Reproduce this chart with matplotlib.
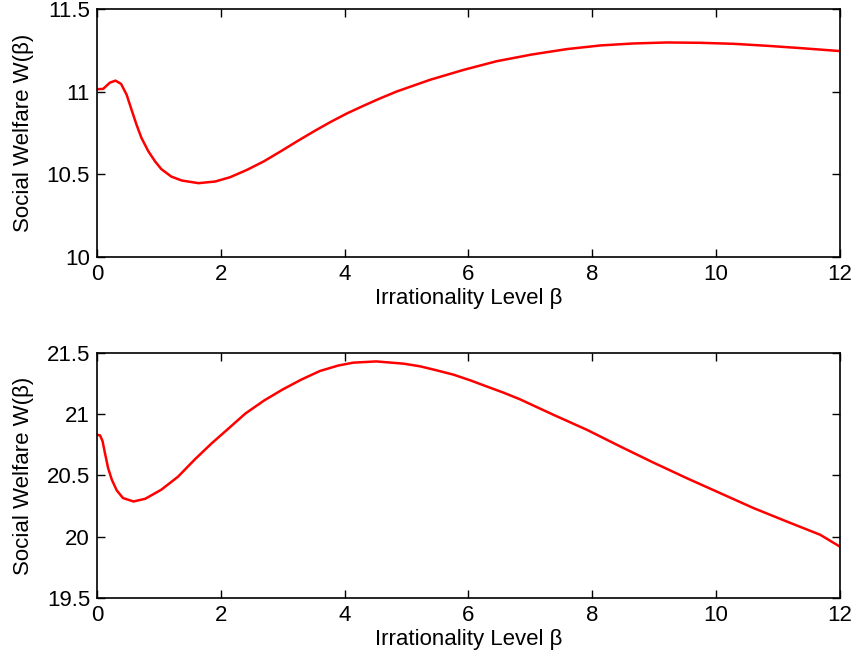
import matplotlib
matplotlib.use("Agg")
import matplotlib.pyplot as plt

# values
beta_top = [0.00, 0.10, 0.21, 0.30, 0.39, 0.48, 0.56, 0.64, 0.72, 0.83,
            0.94, 1.04, 1.20, 1.37, 1.64, 1.91, 2.15, 2.42, 2.69, 2.96,
            3.23, 3.50, 3.76, 4.03, 4.30, 4.57, 4.84, 5.38, 5.92, 6.46,
            7.02, 7.59, 8.13, 8.66, 9.20, 9.74, 10.28, 10.82, 11.36, 12.00]
welfare_top = [11.016, 11.018, 11.056, 11.068, 11.048, 10.982, 10.89, 10.80, 10.72, 10.64,
               10.578, 10.532, 10.487, 10.463, 10.447, 10.457, 10.483, 10.527, 10.578, 10.638,
               10.70, 10.76, 10.815, 10.868, 10.915, 10.96, 11.002, 11.073, 11.133, 11.186,
               11.226, 11.259, 11.281, 11.293, 11.299, 11.297, 11.291, 11.279, 11.265, 11.247]

beta_bottom = [0.00, 0.05, 0.09, 0.13, 0.18, 0.24, 0.32, 0.42, 0.59, 0.78,
               1.04, 1.31, 1.58, 1.85, 2.12, 2.40, 2.70, 3.00, 3.30, 3.60,
               3.90, 4.14, 4.51, 4.95, 5.22, 5.49, 5.76, 6.03, 6.29, 6.56,
               6.83, 7.10, 7.37, 7.91, 8.45, 8.98, 9.52, 10.06, 10.60, 11.14,
               11.68, 12.00]
welfare_bottom = [20.831, 20.826, 20.78, 20.68, 20.56, 20.465, 20.378, 20.316, 20.288, 20.31,
                  20.384, 20.49, 20.63, 20.76, 20.88, 21.005, 21.11, 21.20, 21.28, 21.35,
                  21.395, 21.418, 21.428, 21.41, 21.388, 21.355, 21.32, 21.274, 21.225, 21.175,
                  21.12, 21.057, 20.994, 20.872, 20.736, 20.606, 20.479, 20.357, 20.235, 20.125,
                  20.017, 19.92]

x_ticks = [0, 2, 4, 6, 8, 10, 12]
y_ticks_top = [10, 10.5, 11, 11.5]
y_ticks_bottom = [19.5, 20, 20.5, 21, 21.5]
y_tick_labels_top = ["10", "10.5", "11", "11.5"]
y_tick_labels_bottom = ["19.5", "20", "20.5", "21", "21.5"]

plt.rcParams["font.family"] = ["Liberation Sans Narrow", "Liberation Sans", "DejaVu Sans"]
plt.rcParams["font.size"] = 16

fig = plt.figure(figsize=(8.58, 6.64), dpi=100)
ax1 = fig.add_axes([0.113, 0.613, 0.866, 0.373])
ax2 = fig.add_axes([0.113, 0.099, 0.866, 0.370])


def style_axes(ax, yticks, ylabels, ylim):
    """matlab looking box axes"""
    ax.set_xlim(0, 12)
    ax.set_ylim(*ylim)
    ax.set_xticks(x_ticks)
    ax.set_yticks(yticks)
    ax.set_yticklabels(ylabels)
    ax.tick_params(direction="in", length=6, width=1, top=True, right=True, pad=5)
    for s in ax.spines.values():
        s.set_linewidth(1.2)
    ax.set_xlabel("Irrationality Level β", labelpad=2)
    ax.set_ylabel("Social Welfare W(β)", labelpad=9)


ax1.plot(beta_top, welfare_top, color="red", linewidth=1.8)
style_axes(ax1, y_ticks_top, y_tick_labels_top, (10, 11.5))

ax2.plot(beta_bottom, welfare_bottom, color="red", linewidth=1.8)
style_axes(ax2, y_ticks_bottom, y_tick_labels_bottom, (19.5, 21.5))

fig.savefig("out.png", dpi=100)
